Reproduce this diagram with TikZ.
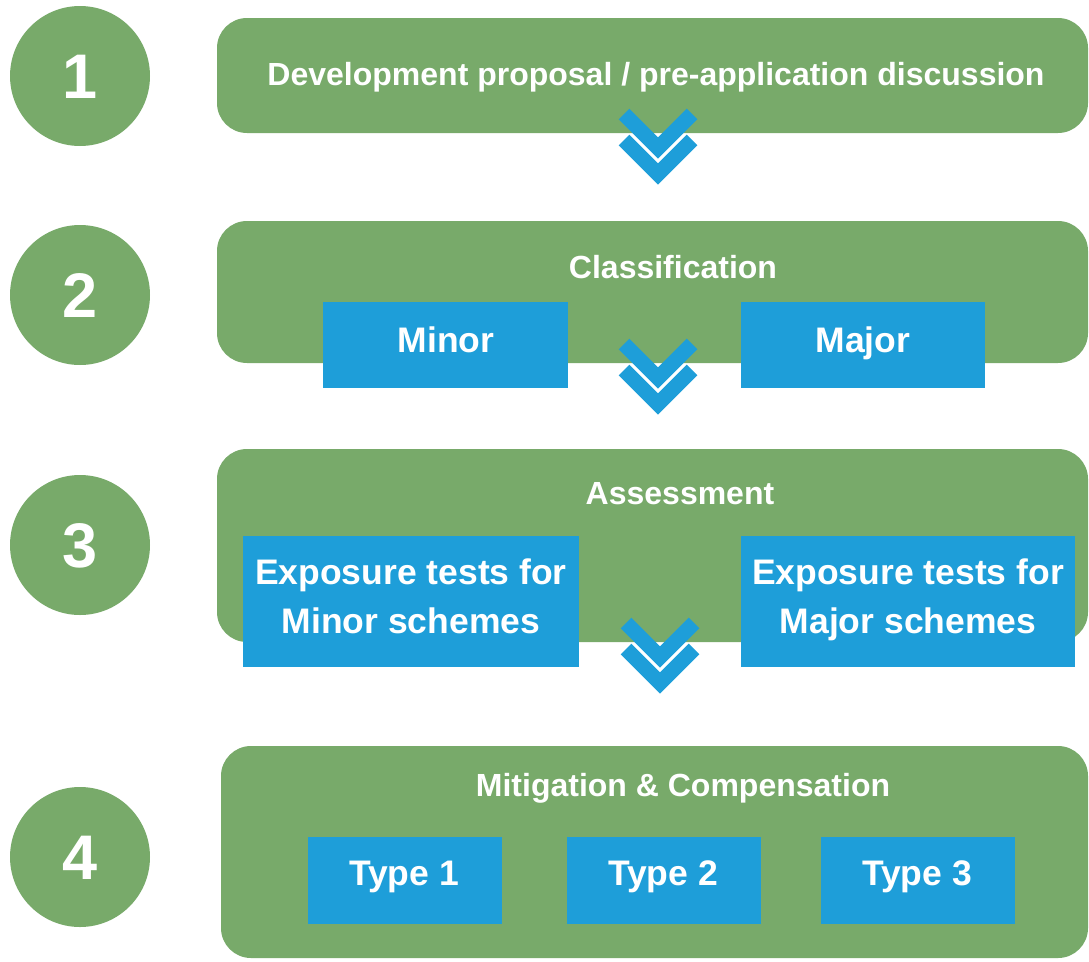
\documentclass[tikz,border=0pt]{standalone}
\usepackage{fontspec}
\setmainfont{Liberation Sans}
\definecolor{grn}{RGB}{120,170,106}
\definecolor{blu}{RGB}{30,158,217}
\begin{document}
\begin{tikzpicture}[x=1pt,y=-1pt,
  stage/.style={fill=grn,rounded corners=30pt,inner sep=0pt},
  optbox/.style={fill=blu,inner sep=0pt},
  opttxt/.style={text=white,inner sep=0pt,text height=25.4pt,text depth=0pt,font=\fontsize{35.5}{40}\selectfont\bfseries},
  ttl/.style={text=white,inner sep=0pt,text height=23pt,text depth=0pt,font=\fontsize{32}{36}\selectfont\bfseries},
  num/.style={circle,fill=grn,minimum size=140pt,inner sep=0pt},
  numtxt/.style={text=white,inner sep=0pt,text height=45pt,text depth=0pt,font=\fontsize{63}{70}\selectfont\bfseries},
  chev/.style={draw=blu,line width=15pt,line cap=butt,line join=miter}]
\useasboundingbox (0,0) rectangle (1089,961);
% step numbers
\node[num] (n1) at (80,76) {};
\node[numtxt] at (n1) {1};
\node[num] (n2) at (80,295) {};
\node[numtxt] at (n2) {2};
\node[num] (n3) at (80,545) {};
\node[numtxt] at (n3) {3};
\node[num] (n4) at (80,857) {};
\node[numtxt] at (n4) {4};
% stage boxes
\node[stage,minimum width=871pt,minimum height=115pt] (s1) at (652.5,75.5) {};
\node[ttl] (t1) at (656,74) {Development proposal / pre-application discussion};
\node[stage,minimum width=871pt,minimum height=142pt] (s2) at (652.5,292) {};
\node[ttl] (t2) at (673,267) {Classification};
\node[stage,minimum width=871pt,minimum height=193pt] (s3) at (652.5,545.5) {};
\node[ttl] (t3) at (680,492.5) {Assessment};
\node[stage,minimum width=867pt,minimum height=212pt] (s4) at (654.5,852) {};
\node[ttl] (t4) at (683,785) {Mitigation \& Compensation};
% option boxes
\node[optbox,minimum width=245pt,minimum height=86pt] (minor) at (445.5,345) {};
\node[opttxt] at (446,339.5) {Minor};
\node[optbox,minimum width=244pt,minimum height=86pt] (major) at (863,345) {};
\node[opttxt] at (863,339.5) {Major};
\node[optbox,minimum width=336pt,minimum height=131pt] (exmin) at (411,601.5) {};
\node[opttxt] at (411,571.5) {Exposure tests for};
\node[opttxt] at (411,620.5) {Minor schemes};
\node[optbox,minimum width=334pt,minimum height=131pt] (exmaj) at (908,601.5) {};
\node[opttxt] at (908,571.5) {Exposure tests for};
\node[opttxt] at (908,620.5) {Major schemes};
\node[optbox,minimum width=194pt,minimum height=87pt] (ty1) at (405,880.5) {};
\node[opttxt] at (404,872.5) {Type 1};
\node[optbox,minimum width=194pt,minimum height=87pt] (ty2) at (663.5,880.5) {};
\node[opttxt] at (663,872.5) {Type 2};
\node[optbox,minimum width=194pt,minimum height=87pt] (ty3) at (917.5,880.5) {};
\node[opttxt] at (917,872.5) {Type 3};
% chevrons
\coordinate (c1) at (658,104);
\coordinate (c2) at (658,334);
\coordinate (c3) at (660,613);
\foreach \c in {c1,c2,c3}{
  \draw[chev] ([shift={(-34,10)}]\c) -- ([shift={(0,44)}]\c) -- ([shift={(34,10)}]\c);
  \draw[chev] ([shift={(-34,36)}]\c) -- ([shift={(0,70)}]\c) -- ([shift={(34,36)}]\c);
}
\end{tikzpicture}
\end{document}
